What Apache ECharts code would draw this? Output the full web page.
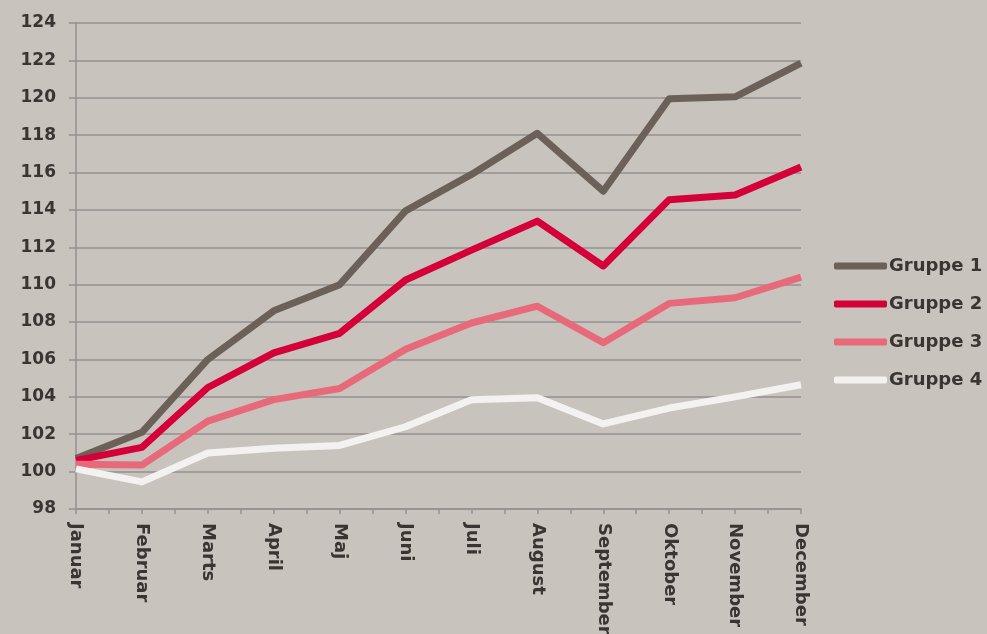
<!DOCTYPE html>
<html>
<head>
<meta charset="utf-8">
<script src="https://cdn.jsdelivr.net/npm/echarts@6/dist/echarts.min.js"></script>
<style>
html,body{margin:0;padding:0;background:#c8c3bd;}
#chart{width:987px;height:634px;}
</style>
</head>
<body>
<div id="chart"></div>
<script>
const categories = ["Januar","Februar","Marts","April","Maj","Juni","Juli","August","September","Oktober","November","December"];
const seriesNames = ["Gruppe 1","Gruppe 2","Gruppe 3","Gruppe 4"];
const gruppe1 = [100.7, 102.1, 106.0, 108.6, 110.0, 113.95, 115.9, 118.1, 115.0, 119.95, 120.05, 121.85];
const gruppe2 = [100.6, 101.3, 104.5, 106.35, 107.4, 110.25, 111.85, 113.4, 111.0, 114.55, 114.8, 116.3];
const gruppe3 = [100.4, 100.35, 102.7, 103.85, 104.45, 106.55, 107.95, 108.85, 106.9, 109.0, 109.3, 110.4];
const gruppe4 = [100.15, 99.45, 101.0, 101.25, 101.4, 102.4, 103.85, 103.95, 102.55, 103.4, 104.0, 104.65];
const yTicks = {min: 98, max: 124, interval: 2};
const colors = ["#6b6159", "#d5003a", "#e8697a", "#f4f2f0"];

const allValues = [gruppe1, gruppe2, gruppe3, gruppe4];
const textColor = "#3a3532";
const fontFamily = "'DejaVu Sans', sans-serif";
const gridColor = "#959190";

const chart = echarts.init(document.getElementById('chart'), null, {renderer: 'canvas'});
chart.setOption({
  backgroundColor: "#c8c3bd",
  animation: false,
  textStyle: {fontFamily: fontFamily},
  grid: {left: 76, right: 186, top: 23, bottom: 125, containLabel: false, outerBoundsMode: 'none'},
  legend: {
    orient: 'vertical',
    left: 829,
    top: 252,
    itemWidth: 53,
    itemHeight: 7,
    itemGap: 20,
    icon: 'roundRect',
    data: seriesNames,
    textStyle: {color: textColor, fontSize: 18, fontWeight: 'bold', fontFamily: fontFamily, padding: [0,0,0,-3]}
  },
  xAxis: [{
    type: 'category',
    data: categories,
    boundaryGap: false,
    position: 'bottom',
    axisLine: {show: true, lineStyle: {color: gridColor, width: 1.5}},
    axisTick: {show: true, length: 5, lineStyle: {color: gridColor, width: 1.5}},
    axisLabel: {rotate: -90, margin: 14, color: textColor, fontSize: 18, fontWeight: 'bold', fontFamily: fontFamily, interval: 0},
    splitLine: {show: false}
  }, {
    type: 'category',
    data: Array(categories.length * 2 - 1).fill(''),
    boundaryGap: false,
    position: 'bottom',
    axisLine: {show: false},
    axisTick: {show: true, length: 5, interval: 0, lineStyle: {color: gridColor, width: 1.5}},
    axisLabel: {show: false},
    splitLine: {show: false}
  }],
  yAxis: {
    type: 'value',
    min: yTicks.min, max: yTicks.max, interval: yTicks.interval,
    axisLine: {show: true, lineStyle: {color: gridColor, width: 1.5}},
    axisTick: {show: true, length: 7, lineStyle: {color: gridColor, width: 1.5}},
    axisLabel: {margin: 20, color: textColor, fontSize: 17, fontWeight: 'bold', fontFamily: fontFamily},
    splitLine: {show: true, lineStyle: {color: gridColor, width: 1.5}}
  },
  series: seriesNames.map((name, i) => ({
    name: name,
    type: 'line',
    xAxisIndex: 0,
    data: allValues[i],
    symbol: 'none',
    smooth: false,
    color: colors[i],
    lineStyle: {width: 7, color: colors[i], join: 'round'},
    itemStyle: {color: colors[i]}
  }))
});
</script>
</body>
</html>
